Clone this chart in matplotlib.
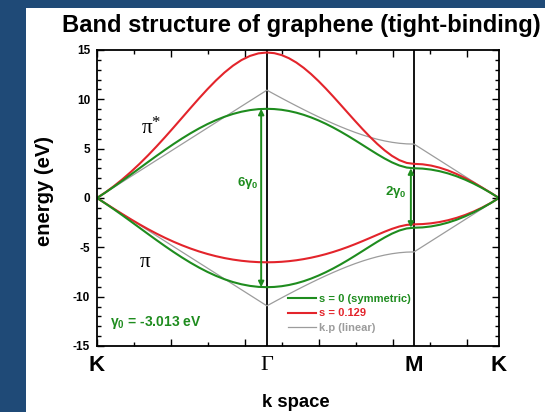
import numpy as np
import matplotlib
matplotlib.use("Agg")
import matplotlib.pyplot as plt
from matplotlib.patches import Rectangle
from matplotlib.lines import Line2D
from matplotlib.ticker import MultipleLocator

plt.rcParams['font.family'] = ['Liberation Sans', 'DejaVu Sans']
plt.rcParams['axes.unicode_minus'] = False
plt.rcParams['mathtext.fontset'] = 'custom'
plt.rcParams['mathtext.rm'] = 'Liberation Sans:bold'
plt.rcParams['mathtext.it'] = 'Liberation Sans:bold'
plt.rcParams['mathtext.bf'] = 'Liberation Sans:bold'

# ---- data (energies in eV along K -> Gamma -> M -> K) ----
seg_len = [4/3, 2/np.sqrt(3), 2/3]   # K-Γ, Γ-M, M-K path lengths (π/a units)
n_pts = [21, 21, 11]
point_labels = ["K", "Γ", "M", "K"]

green_up_KG = [0, 0.562, 1.151, 1.760, 2.383, 3.013, 3.643, 4.266, 4.875, 5.464, 6.026,
               6.555, 7.045, 7.491, 7.888, 8.232, 8.518, 8.744, 8.907, 9.006, 9.039]
green_up_GM = [9.039, 9.014, 8.940, 8.817, 8.647, 8.430, 8.169, 7.866, 7.524, 7.146, 6.737,
               6.302, 5.845, 5.376, 4.904, 4.440, 4.002, 3.611, 3.295, 3.086, 3.013]
green_up_MK = [3.013, 2.980, 2.881, 2.718, 2.492, 2.206, 1.862, 1.465, 1.019, 0.529, 0]

green_dn_KG = [0, -0.562, -1.151, -1.760, -2.383, -3.013, -3.643, -4.266, -4.875, -5.464, -6.026,
               -6.555, -7.045, -7.491, -7.888, -8.232, -8.518, -8.744, -8.907, -9.006, -9.039]
green_dn_GM = [-9.039, -9.014, -8.940, -8.817, -8.647, -8.430, -8.169, -7.866, -7.524, -7.146, -6.737,
               -6.302, -5.845, -5.376, -4.904, -4.440, -4.002, -3.611, -3.295, -3.086, -3.013]
green_dn_MK = [-3.013, -2.980, -2.881, -2.718, -2.492, -2.206, -1.862, -1.465, -1.019, -0.529, 0]

red_up_KG = [0, 0.576, 1.211, 1.904, 2.654, 3.459, 4.316, 5.219, 6.161, 7.133, 8.121,
             9.112, 10.088, 11.028, 11.911, 12.712, 13.408, 13.977, 14.398, 14.658, 14.746]
red_up_GM = [14.746, 14.680, 14.484, 14.165, 13.730, 13.191, 12.563, 11.861, 11.100, 10.297, 9.468,
             8.630, 7.797, 6.984, 6.207, 5.482, 4.829, 4.271, 3.836, 3.556, 3.459]
red_up_MK = [3.459, 3.416, 3.287, 3.076, 2.790, 2.436, 2.023, 1.563, 1.066, 0.541, 0]

red_dn_KG = [0, -0.549, -1.097, -1.637, -2.162, -2.669, -3.151, -3.607, -4.033, -4.428, -4.790,
             -5.118, -5.413, -5.672, -5.897, -6.087, -6.242, -6.362, -6.448, -6.500, -6.517]
red_dn_GM = [-6.517, -6.504, -6.465, -6.401, -6.311, -6.194, -6.052, -5.884, -5.691, -5.472, -5.229,
             -4.963, -4.675, -4.370, -4.053, -3.731, -3.416, -3.127, -2.887, -2.726, -2.669]
red_dn_MK = [-2.669, -2.643, -2.565, -2.435, -2.252, -2.015, -1.725, -1.379, -0.977, -0.517, 0]

gray_up_KG = [0, 0.547, 1.093, 1.640, 2.186, 2.733, 3.279, 3.826, 4.372, 4.919, 5.465,
              6.012, 6.558, 7.105, 7.651, 8.198, 8.744, 9.291, 9.837, 10.384, 10.93]
gray_up_GM = [10.93, 10.523, 10.121, 9.726, 9.339, 8.959, 8.589, 8.229, 7.882, 7.548, 7.230,
              6.929, 6.648, 6.391, 6.159, 5.955, 5.784, 5.646, 5.546, 5.485, 5.465]
gray_up_MK = [5.465, 4.919, 4.372, 3.826, 3.279, 2.733, 2.186, 1.640, 1.093, 0.547, 0]

gray_dn_KG = [0, -0.547, -1.093, -1.640, -2.186, -2.733, -3.279, -3.826, -4.372, -4.919, -5.465,
              -6.012, -6.558, -7.105, -7.651, -8.198, -8.744, -9.291, -9.837, -10.384, -10.93]
gray_dn_GM = [-10.93, -10.523, -10.121, -9.726, -9.339, -8.959, -8.589, -8.229, -7.882, -7.548, -7.230,
              -6.929, -6.648, -6.391, -6.159, -5.955, -5.784, -5.646, -5.546, -5.485, -5.465]
gray_dn_MK = [-5.465, -4.919, -4.372, -3.826, -3.279, -2.733, -2.186, -1.640, -1.093, -0.547, 0]

gap_gamma = 9.039   # 6γ0 / 2
gap_m = 3.013       # 2γ0 / 2
legend_labels = ["s = 0 (symmetric)", "s = 0.129", "k.p (linear)"]

# ---- k grid along the path ----
nodes = np.concatenate([[0], np.cumsum(seg_len)])
k_segs = [np.linspace(nodes[i], nodes[i + 1], n_pts[i]) for i in range(3)]

def join(a, b, c):
    return np.concatenate([a, b[1:], c[1:]])

k_path = join(*k_segs)

GREEN = "#1e8c1e"
RED = "#e3242b"
GRAY = "#9c9c9c"
BLUE = "#1f4a77"
SERIF = ["Liberation Serif", "DejaVu Serif"]

fig = plt.figure(figsize=(5.45, 4.12), dpi=100)
fig.patch.set_facecolor(BLUE)
fig.patches.append(Rectangle((26 / 545, 0), 1, (412 - 8) / 412, transform=fig.transFigure,
                             facecolor="white", edgecolor="none", zorder=-10))

ax = fig.add_axes([97 / 545, (412 - 346) / 412, (499 - 97) / 545, (346 - 50) / 412])
ax.set_facecolor("white")

ax.plot(k_path, join(gray_up_KG, gray_up_GM, gray_up_MK), color=GRAY, lw=0.9)
ax.plot(k_path, join(gray_dn_KG, gray_dn_GM, gray_dn_MK), color=GRAY, lw=0.9)
ax.plot(k_path, join(red_up_KG, red_up_GM, red_up_MK), color=RED, lw=1.5)
ax.plot(k_path, join(red_dn_KG, red_dn_GM, red_dn_MK), color=RED, lw=1.5)
ax.plot(k_path, join(green_up_KG, green_up_GM, green_up_MK), color=GREEN, lw=1.5)
ax.plot(k_path, join(green_dn_KG, green_dn_GM, green_dn_MK), color=GREEN, lw=1.5)

for xv in nodes[1:3]:
    ax.axvline(xv, color="black", lw=1.3, zorder=1)

ax.set_xlim(nodes[0], nodes[-1])
ax.set_ylim(-15, 15)
ax.yaxis.set_major_locator(MultipleLocator(5))
ax.yaxis.set_minor_locator(MultipleLocator(1))
tick_step = nodes[-1] / 5.43
ax.xaxis.set_major_locator(MultipleLocator(tick_step))
ax.xaxis.set_minor_locator(MultipleLocator(tick_step / 2))
ax.tick_params(which="both", direction="in", top=True, right=True, width=1)
ax.tick_params(which="major", length=5)
ax.tick_params(which="minor", length=3)
ax.tick_params(axis="x", labelbottom=False)
ax.tick_params(axis="y", labelsize=8.5, pad=5)
for lab in ax.get_yticklabels():
    lab.set_fontweight("bold")
for sp in ax.spines.values():
    sp.set_linewidth(1.3)

# point labels
xt = ax.get_xaxis_transform()
for xv, lab in zip(nodes, point_labels):
    if lab == "Γ":
        ax.text(xv, -0.065, lab, transform=xt, ha="center", va="center", fontsize=16,
                family=SERIF)
    else:
        ax.text(xv, -0.065, lab, transform=xt, ha="center", va="center", fontsize=16,
                fontweight="bold")

# arrows for gaps
xg = nodes[1] - 0.045
xm = nodes[2] - 0.025
for xa, e in [(xg, gap_gamma), (xm, gap_m)]:
    ax.annotate("", xy=(xa, e), xytext=(xa, -e),
                arrowprops=dict(arrowstyle="<|-|>", color=GREEN, lw=1.4,
                                mutation_scale=8, shrinkA=0, shrinkB=0))
ax.text(1.185, 1.5, "6γ$_0$", color=GREEN, fontsize=9.5, fontweight="bold",
        ha="center", va="center")
ax.text(2.347, 0.6, "2γ$_0$", color=GREEN, fontsize=9.5, fontweight="bold",
        ha="center", va="center")
ax.text(0.10, -12.6, "γ$_0$ = -3.013 eV", color=GREEN, fontsize=10, fontweight="bold",
        ha="left", va="center")

ax.text(0.39, 7.0, "π", fontsize=15, family=SERIF, ha="center", va="center")
ax.text(0.457, 7.6, "*", fontsize=12, family=SERIF, ha="center", va="center")
ax.text(0.38, -6.5, "π", fontsize=15, family=SERIF, ha="center", va="center")

handles = [Line2D([], [], color=GREEN, lw=1.5), Line2D([], [], color=RED, lw=1.5),
           Line2D([], [], color=GRAY, lw=0.9)]
leg = ax.legend(handles, legend_labels, loc="lower left", bbox_to_anchor=(0.465, 0.03),
                frameon=False, fontsize=8, handlelength=2.5, handletextpad=0.3,
                labelspacing=0.38, borderaxespad=0)
for t, c in zip(leg.get_texts(), [GREEN, RED, GRAY]):
    t.set_color(c)
    t.set_fontweight("bold")

fig.text(301 / 545, 1 - 32 / 412, "Band structure of graphene (tight-binding)",
         ha="center", va="baseline", fontsize=17.1, fontweight="bold")
fig.text(295.5 / 545, 1 - 407 / 412, "k space", ha="center", va="baseline",
         fontsize=13.3, fontweight="bold")
fig.text(45 / 545, 1 - 191 / 412, "energy (eV)", ha="center", va="center",
         fontsize=14.5, fontweight="bold", rotation=90)

fig.savefig("out.png", dpi=100, facecolor=fig.get_facecolor())
